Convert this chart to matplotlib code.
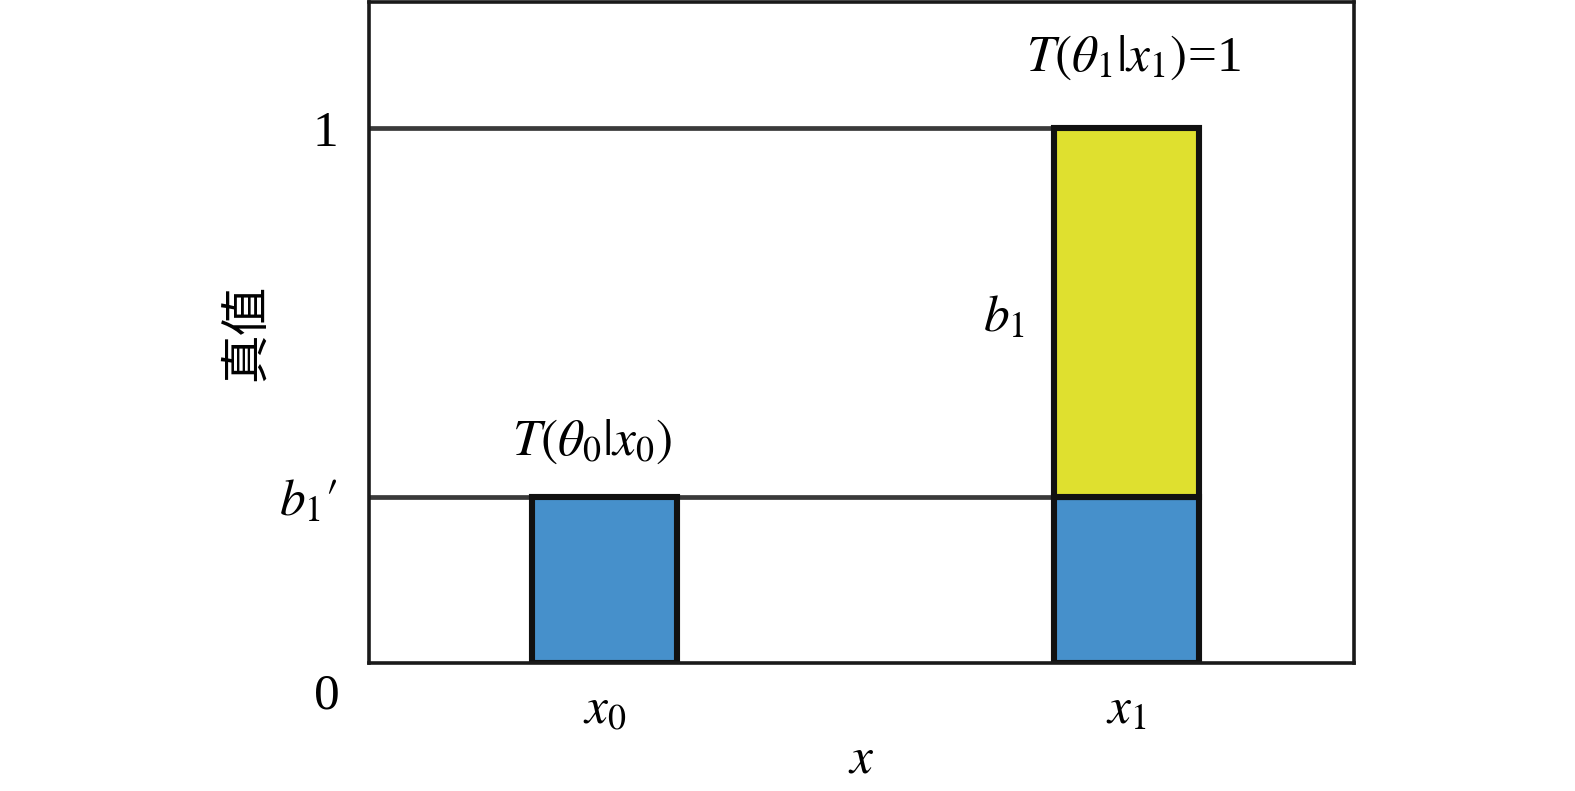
import matplotlib.pyplot as plt

plt.rcParams["font.family"] = ["Liberation Serif", "Noto Sans CJK SC", "DejaVu Sans"]
plt.rcParams["mathtext.fontset"] = "stix"

# data
x_pos = [2.39, 7.69]
x_labels = [r"$x_0$", r"$x_1$"]
bar_width = 1.48
blue_vals = [0.31, 0.31]   # T(theta0|x) part
yellow_vals = [0.0, 0.69]  # extra on x1, up to 1
b1_prime = 0.31
top_val = 1.0

fig = plt.figure(figsize=(15.75, 7.91), dpi=100)
ax = fig.add_axes([0.2343, 0.1618, 0.6254, 0.8357])

# reference lines from the axis to the x1 bar
ax.hlines([top_val, b1_prime], 0, x_pos[1] - bar_width / 2,
          color="#3a3a3a", linewidth=3.4, zorder=1)

ax.bar(x_pos, blue_vals, width=bar_width, color="#4690CB",
       edgecolor="#111111", linewidth=4.4, zorder=2)
ax.bar(x_pos[1], yellow_vals[1], bottom=blue_vals[1], width=bar_width,
       color="#DFE02F", edgecolor="#111111", linewidth=4.4, zorder=2)

ax.set_xlim(0, 10)
ax.set_ylim(0, 1.235)

ax.set_xticks(x_pos)
ax.set_xticklabels(x_labels, fontsize=37)
ax.set_yticks([b1_prime, top_val])
ax.set_yticklabels([r"$b_1{\prime}$", "1"], fontsize=37)
ax.tick_params(length=0)
ax.tick_params(axis="y", pad=22)
ax.tick_params(axis="x", pad=18)

ax.text(-0.03, -0.05, "0", transform=ax.transAxes, ha="right", va="center", fontsize=37)

ax.set_xlabel(r"$x$", fontsize=37, labelpad=2)
ax.set_ylabel("真值", fontsize=35, family=["Noto Sans CJK SC"], labelpad=6)

ax.text(7.76, 1.13, r"$T(\theta_1|x_1)$=1", fontsize=37, ha="center", va="center")
ax.text(6.45, 0.644, r"$b_1$", fontsize=37, ha="center", va="center")
ax.text(2.27, 0.413, r"$T(\theta_0|x_0)$", fontsize=37, ha="center", va="center")

for s in ax.spines.values():
    s.set_linewidth(2.6)
    s.set_color("#1a1a1a")

fig.savefig("out.png", dpi=100)
